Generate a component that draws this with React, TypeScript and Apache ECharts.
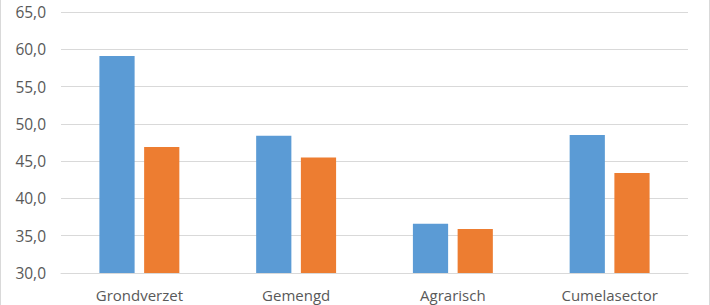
import React, { useEffect, useRef } from "react";
import * as echarts from "echarts";

const categories = ["Grondverzet", "Gemengd", "Agrarisch", "Cumelasector"];
const seriesA = [59.1, 48.4, 36.6, 48.5];
const seriesB = [46.9, 45.5, 35.9, 43.4];

export default function App() {
  const ref = useRef<HTMLDivElement>(null);
  useEffect(() => {
    if (!ref.current) return;
    const chart = echarts.init(ref.current, undefined, { renderer: "svg" });
    const font = "Open Sans, Liberation Sans, sans-serif";
    chart.setOption({
      animation: false,
      backgroundColor: "#ffffff",
      grid: { left: 61, right: 22, top: 12, bottom: 32 },
      xAxis: {
        type: "category",
        data: categories,
        axisLine: { lineStyle: { color: "#D9D9D9", width: 1 } },
        axisTick: { show: false },
        axisLabel: { color: "#595959", fontSize: 15, fontFamily: font, margin: 14 },
      },
      yAxis: {
        type: "value",
        min: 30,
        max: 65,
        interval: 5,
        axisLine: { show: false },
        axisTick: { show: false },
        splitLine: { lineStyle: { color: "#D9D9D9", width: 1 } },
        axisLabel: {
          color: "#595959",
          fontSize: 15.5,
          fontFamily: font,
          margin: 15,
          formatter: (v: number) => v.toFixed(1).replace(".", ","),
        },
      },
      series: [
        {
          type: "bar",
          data: seriesA,
          itemStyle: { color: "#5B9BD5" },
          barGap: "27%",
          barCategoryGap: "49%",
        },
        {
          type: "bar",
          data: seriesB,
          itemStyle: { color: "#ED7D31" },
          barGap: "27%",
          barCategoryGap: "49%",
        },
      ],
      graphic: [
        { type: "line", shape: { x1: 0.5, y1: 0, x2: 0.5, y2: 305 }, style: { stroke: "#D9D9D9", lineWidth: 1 } },
        { type: "line", shape: { x1: 709.5, y1: 0, x2: 709.5, y2: 305 }, style: { stroke: "#D9D9D9", lineWidth: 1 } },
      ],
    });
    return () => chart.dispose();
  }, []);
  return (
    <div
      ref={ref}
      style={{ position: "absolute", left: 0, top: 0, width: 710, height: 305 }}
    />
  );
}
